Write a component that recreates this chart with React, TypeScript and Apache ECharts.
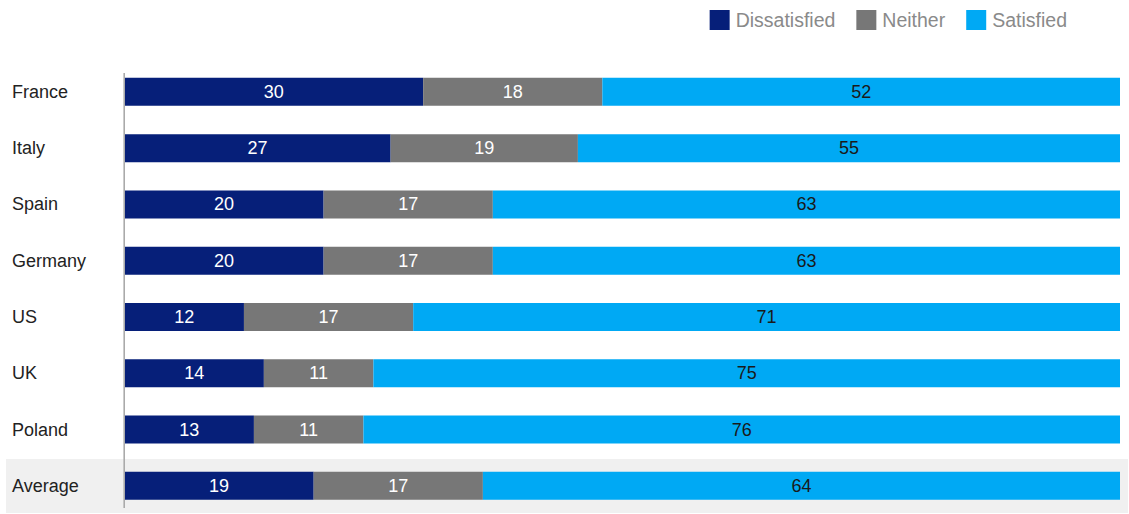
import React, { useEffect, useRef } from "react";
import * as echarts from "echarts";

const categories = ["France", "Italy", "Spain", "Germany", "US", "UK", "Poland", "Average"];
const dissatisfied = [30, 27, 20, 20, 12, 14, 13, 19];
const neither = [18, 19, 17, 17, 17, 11, 11, 17];
const satisfied = [52, 55, 63, 63, 71, 75, 76, 64];

const seriesNames = ["Dissatisfied", "Neither", "Satisfied"];
const colors = ["#061f79", "#777777", "#00a9f4"];
const labelColors = ["#ffffff", "#ffffff", "#1a1a1a"];

export default function App() {
  const ref = useRef<HTMLDivElement>(null);
  useEffect(() => {
    if (!ref.current) return;
    const chart = echarts.init(ref.current, null, { renderer: "svg" });
    const raw = [dissatisfied, neither, satisfied];
    const totals = categories.map((_, i) => dissatisfied[i] + neither[i] + satisfied[i]);
    const font = "'Liberation Sans', Arial, sans-serif";
    chart.setOption({
      animation: false,
      textStyle: { fontFamily: font },
      legend: {
        data: seriesNames,
        right: 62,
        top: 10,
        padding: 0,
        itemWidth: 20,
        itemHeight: 20,
        itemGap: 21,
        icon: "rect",
        textStyle: { color: "#8a8a8a", fontSize: 19.5, fontFamily: font, padding: [0, 0, 0, 1] },
      },
      grid: { left: 124.5, right: 9, top: 63.7, height: 452.6, containLabel: false },
      xAxis: {
        type: "value",
        min: 0,
        max: 100,
        show: false,
      },
      yAxis: {
        type: "category",
        data: categories,
        inverse: true,
        axisLine: { show: false },
        axisTick: { show: false },
        axisLabel: {
          align: "left",
          margin: 112.5,
          color: "#222222",
          fontSize: 18,
          fontFamily: font,
        },
      },
      graphic: [
        {
          type: "rect",
          shape: { x: 6, y: 459, width: 1122, height: 54 },
          style: { fill: "#f0f0f0" },
          z: -10,
          silent: true,
        },
        {
          type: "line",
          shape: { x1: 124.2, y1: 73, x2: 124.2, y2: 508 },
          style: { stroke: "#aaaaaa", lineWidth: 1.6 },
          z: 10,
          silent: true,
        },
      ],
      series: seriesNames.map((name, s) => ({
        name,
        type: "bar",
        stack: "total",
        barWidth: 28,
        itemStyle: { color: colors[s] },
        label: {
          show: true,
          position: "inside",
          color: labelColors[s],
          fontSize: 18,
          fontFamily: font,
          formatter: (p: any) => String(raw[s][p.dataIndex]),
        },
        data: raw[s].map((v, i) => (v / totals[i]) * 100),
      })),
    });
    return () => chart.dispose();
  }, []);
  return <div ref={ref} style={{ width: 1129, height: 514, position: "absolute", left: 0, top: 0 }} />;
}
